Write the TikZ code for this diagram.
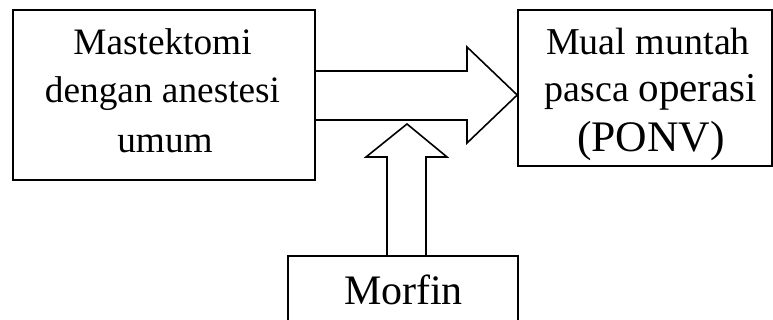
\documentclass[tikz,border=0pt]{standalone}
\usepackage{fontspec}
\setmainfont{Liberation Serif}
\usetikzlibrary{calc}
\begin{document}
\begin{tikzpicture}[x=1pt,y=-1pt,
  boxstyle/.style={draw, rectangle, inner sep=0pt, line width=1.6pt},
  txt/.style={anchor=base, inner sep=0pt},
  blockarrow/.style={draw, line width=1.6pt, line join=miter}]
\useasboundingbox (0,0) rectangle (773,320);
\clip (0,0) rectangle (773,320);
% boxes
\node[boxstyle, minimum width=302pt, minimum height=170pt] (mast) at (164,95) {};
\node[boxstyle, minimum width=254pt, minimum height=156pt] (ponv) at (645,88) {};
\node[boxstyle, minimum width=230pt, minimum height=100pt] (morf) at (403,306) {};
% texts
\node[txt, font=\fontsize{37.3}{45}\selectfont] (t1) at (162.5,55) {Mastektomi};
\node[txt, font=\fontsize{37.3}{45}\selectfont] (t2) at (162.5,103) {dengan anestesi};
\node[txt, font=\fontsize{37.3}{45}\selectfont] (t3) at (165,153) {umum};
\node[txt, font=\fontsize{38}{45}\selectfont] (r1) at (648,55) {Mual muntah};
\node[txt, font=\fontsize{38}{45}\selectfont] (r2) at (651,102) {pasca {\fontsize{41}{50}\selectfont operasi}};
\node[txt, font=\fontsize{43.6}{50}\selectfont] (r3) at (651,152) {(PONV)};
\node[txt, font=\fontsize{42}{50}\selectfont] (m1) at (403.5,304) {Morfin};
% block arrows
\draw[blockarrow] (mast.east |- 0,71) -- (467,71) -- (467,47) -- (ponv.west |- 0,95)
  -- (467,143) -- (467,120) -- (mast.east |- 0,120);
\draw[blockarrow] (387,0 |- morf.north) -- (387,157) -- (366,157) -- (407,124)
  -- (447,157) -- (426,157) -- (426,0 |- morf.north);
\end{tikzpicture}
\end{document}
